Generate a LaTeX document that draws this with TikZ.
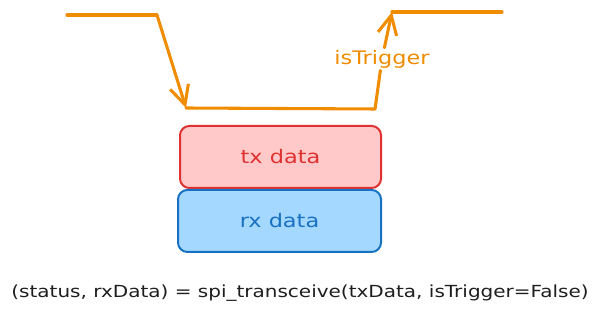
\documentclass[tikz,border=0pt]{standalone}
\usepackage{fontspec}
\setmainfont[FakeStretch=1.2]{DejaVu Sans}
\usetikzlibrary{arrows.meta,positioning}
\definecolor{wavecol}{HTML}{F08C00}
\definecolor{txline}{HTML}{E03131}
\definecolor{txfill}{HTML}{FFC9C9}
\definecolor{rxline}{HTML}{1971C2}
\definecolor{rxfill}{HTML}{A5D8FF}
\definecolor{textcol}{HTML}{1E1E1E}
\tikzset{
  wave/.style={line width=2.3pt, draw=wavecol, line cap=round, line join=round},
  edgearr/.style={wave, -{Straight Barb[length=5mm, width=5mm, line width=2.3pt]}},
  databox/.style={rounded corners=7pt, line width=1.5pt, minimum height=46.5pt,
    inner sep=0pt, font=\fontsize{14}{16}\selectfont},
  txbox/.style={databox, draw=txline, fill=txfill, text=txline, minimum width=150.75pt},
  rxbox/.style={databox, draw=rxline, fill=rxfill, text=rxline, minimum width=152.25pt},
  triglabel/.style={fill=white, text=wavecol, inner sep=1.5pt, font=\fontsize{14}{16}\selectfont}
}

\begin{document}
\begin{tikzpicture}[x=0.75pt, y=-0.75pt]
    \useasboundingbox (0,0) rectangle (600,316);
    % waveform corners
    \coordinate (hiA) at (67,15);
    \coordinate (hiB) at (157,15);
    \coordinate (loA) at (186,108);
    \coordinate (loB) at (375,109);
    \coordinate (hiC) at (392,12);
    \coordinate (hiD) at (502,12);
    \node[triglabel] (trig) at (382,59) {isTrigger};
    \draw[wave] (hiA) -- (hiB);
    \draw[edgearr] (hiB) -- (loA);
    \draw[wave] (loA) -- (loB);
    \draw[wave] (loB) -- (trig);
    \draw[edgearr] (trig) -- (hiC);
    \draw[wave] (hiC) -- (hiD);
    % data frames
    \node[txbox] (tx) at (280.5,157) {tx data};
    \node[rxbox] (rx) at (279.5,221) {rx data};
    \node[text=textcol, font=\fontsize{12.5}{15}\selectfont] (call) at (300,293)
      {(status, rxData) = spi\_transceive(txData, isTrigger=False)};
  \end{tikzpicture}
\end{document}
